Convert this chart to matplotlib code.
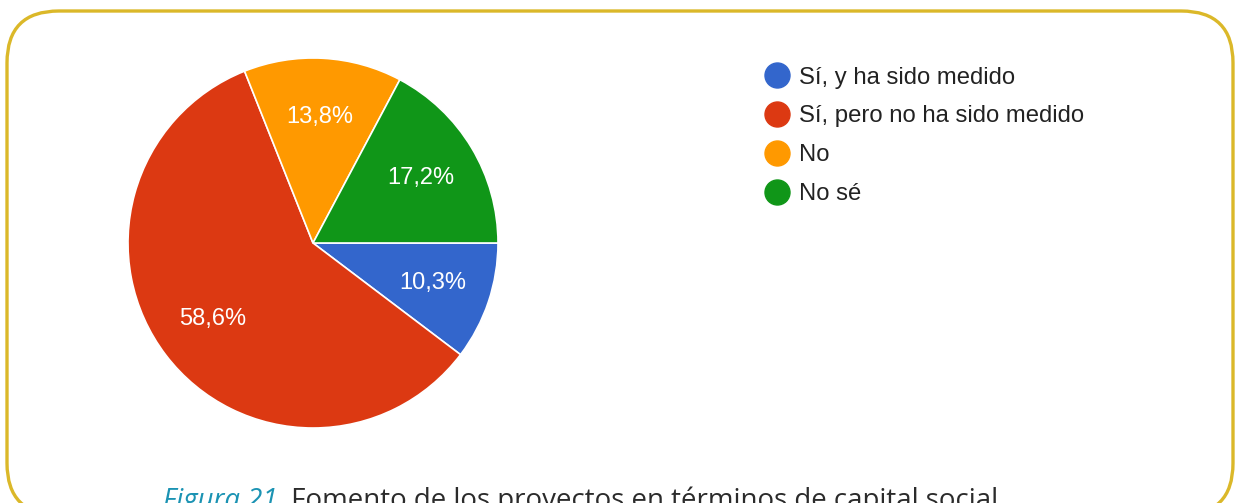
import matplotlib.pyplot as plt
from matplotlib.lines import Line2D
from matplotlib.patches import FancyBboxPatch

# Datos del grafico
labels = ['Sí, y ha sido medido', 'Sí, pero no ha sido medido', 'No', 'No sé']
values = [10.3, 58.6, 13.8, 17.2]
pct_labels = ['10,3%', '58,6%', '13,8%', '17,2%']
colors = ['#3366cc', '#dc3912', '#ff9900', '#109618']
caption_num = 'Figura 21.'
caption_text = ' Fomento de los proyectos en términos de capital social'

W, H = 1235, 503
fig = plt.figure(figsize=(W / 100, H / 100), dpi=100)

# Marco redondeado dorado
frame = FancyBboxPatch((7 / W, -12 / H), (1233 - 7) / W, (H - 11 + 12) / H,
                       boxstyle='round,pad=0,rounding_size=0.042',
                       transform=fig.transFigure, fill=False,
                       edgecolor='#dbb829', linewidth=2.4,
                       mutation_aspect=W / H)
fig.patches.append(frame)

# Pastel
cx, cy, r = 313, H - 243, 185
ax = fig.add_axes([(cx - r) / W, (cy - r) / H, 2 * r / W, 2 * r / H])
wedges, texts = ax.pie(
    values, colors=colors, startangle=0, counterclock=False,
    labels=pct_labels, labeldistance=0.68, radius=1,
    wedgeprops=dict(edgecolor='white', linewidth=1.2),
    textprops=dict(color='white', fontsize=17, family='Liberation Sans'))
for t in texts:
    t.set_ha('center')
    t.set_va('center')
ax.set_xlim(-1, 1)
ax.set_ylim(-1, 1)
ax.set_aspect('equal')

# Leyenda
handles = [Line2D([], [], marker='o', linestyle='', markersize=18,
                  markerfacecolor=c, markeredgecolor=c) for c in colors]
leg = fig.legend(handles, labels, loc='upper left',
                 bbox_to_anchor=(748 / W, 1 - 50 / H),
                 frameon=False, handletextpad=0.45, labelspacing=0.7,
                 handlelength=1.0, borderpad=0.2,
                 prop=dict(family='Liberation Sans', size=17.2))
for t in leg.get_texts():
    t.set_color('#222222')

# Pie de figura
t1 = fig.text(163 / W, -5 / H, caption_num, fontsize=19.9, style='italic',
              color='#1b93b3', family='Open Sans', va='baseline')
fig.canvas.draw()
bb = t1.get_window_extent()
fig.text(bb.x1 / W, -5 / H, caption_text, fontsize=19.9,
         color='#2b2b2b', family='Open Sans', va='baseline')

fig.savefig('out.png', dpi=100)
